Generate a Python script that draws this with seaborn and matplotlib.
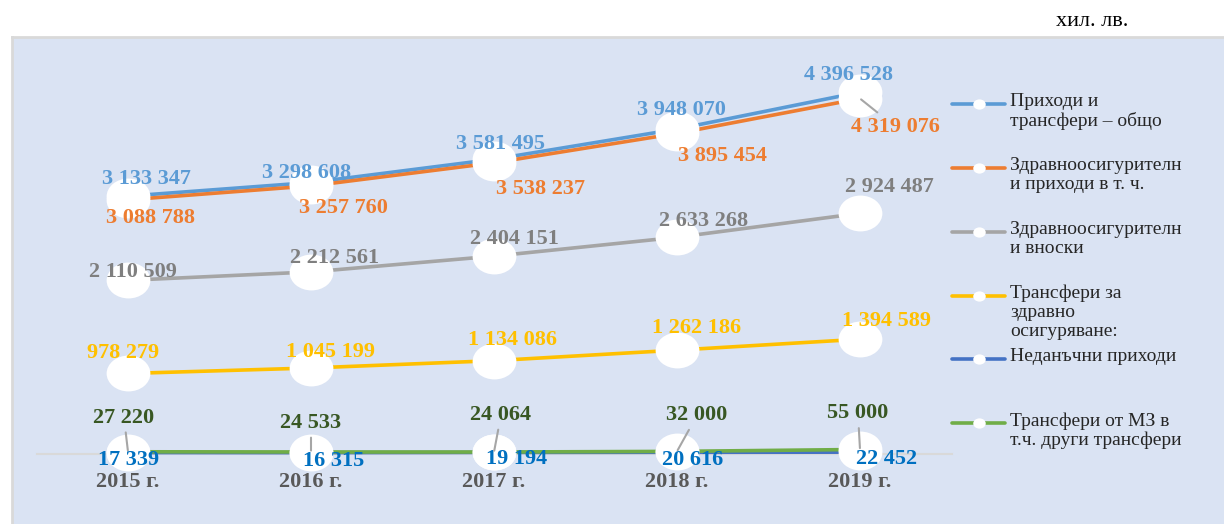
import numpy as np
import pandas as pd
import matplotlib
matplotlib.use("Agg")
import matplotlib.pyplot as plt
import seaborn as sns
from matplotlib.path import Path
from matplotlib.transforms import Affine2D
from matplotlib.lines import Line2D

sns.set_theme(style="white")
plt.rcParams['font.family'] = ['Liberation Serif', 'DejaVu Serif']

# data (хил. лв.)
years = ["2015 г.", "2016 г.", "2017 г.", "2018 г.", "2019 г."]
series_names = [
    "Приходи и\nтрансфери – общо",
    "Здравноосигурителн\nи приходи в т. ч.",
    "Здравноосигурителн\nи вноски",
    "Трансфери за\nздравно\nосигуряване:",
    "Неданъчни приходи",
    "Трансфери от МЗ в\nт.ч. други трансфери",
]
total = [3133347, 3298608, 3581495, 3948070, 4396528]
health_income = [3088788, 3257760, 3538237, 3895454, 4319076]
contributions = [2110509, 2212561, 2404151, 2633268, 2924487]
transfers = [978279, 1045199, 1134086, 1262186, 1394589]
non_tax = [17339, 16315, 19194, 20616, 22452]
mz_transfers = [27220, 24533, 24064, 32000, 55000]

values = [total, health_income, contributions, transfers, non_tax, mz_transfers]
line_colors = ["#5B9BD5", "#ED7D31", "#A5A5A5", "#FFC000", "#4472C4", "#70AD47"]
label_colors = ["#5B9BD5", "#ED7D31", "#7F7F7F", "#FFC000", "#0070C0", "#385723"]

# label offsets in pixels (dx right, dy down) from each point
offsets = [
    [(18, -17), (-4, -10), (6, -15), (4, -19), (-11, -17)],
    [(22, 18), (32, 22), (47, 26), (45, 23), (35, 28)],
    [(5, -8), (24, -14), (20, -17), (27, -16), (29, -26)],
    [(-5, -20), (19, -16), (19, -21), (20, -22), (26, -18)],
    [(1, 7), (23, 8), (23, 7), (16, 8), (27, 7)],
    [(-4, -34), (0, -29), (7, -37), (20, -36), (-2, -36)],
]

rows = []
for name, vals in zip(series_names, values):
    for i, v in enumerate(vals):
        rows.append({"series": name, "idx": i, "value": v})
df = pd.DataFrame(rows)

W, H = 1224, 524
fig = plt.figure(figsize=(W / 100, H / 100), dpi=100)
fig.patch.set_facecolor("white")
ax = fig.add_axes([12 / W, 0, (W - 12) / W, (H - 37) / H])
ax.set_facecolor("#DAE3F3")

palette = dict(zip(series_names, line_colors))
sns.lineplot(data=df, x="idx", y="value", hue="series", palette=palette,
             hue_order=series_names, linewidth=2.6, legend=False, ax=ax,
             sort=False, zorder=2)

ellipse = Path.unit_circle().transformed(Affine2D().scale(1, 0.82))
sns.scatterplot(data=df, x="idx", y="value", marker=ellipse, s=31.5 ** 2,
                color="white", linewidth=0, ax=ax, zorder=3, legend=False)

# scales
px_per_unit = 183.0
x0 = 128.0
zero_px = 454
ax.set_xlim((12 - x0) / px_per_unit, (W - x0) / px_per_unit)
ax.set_ylim(-(H - zero_px) / 82.3 * 1e6, (zero_px - 37) / 82.3 * 1e6)

ax.spines["right"].set_visible(False)
ax.spines["bottom"].set_position(("data", 0))
ax.spines["bottom"].set_bounds(-0.5, 4.5)
ax.spines["bottom"].set_color("#D9D9D9")
ax.spines["bottom"].set_linewidth(1.5)
ax.spines["bottom"].set_zorder(1)
for side in ["left", "top"]:
    ax.spines[side].set_color("#D9D9D9")
    ax.spines[side].set_linewidth(2)

ax.set_xticks(range(len(years)))
ax.set_xticklabels(years, fontsize=16, fontweight="bold", color="#595959")
ax.tick_params(axis="x", length=0, pad=13)
ax.set_yticks([])
ax.set_xlabel("")
ax.set_ylabel("")

# data labels
k = 0.72
for s, vals in enumerate(values):
    for i, v in enumerate(vals):
        dx, dy = offsets[s][i]
        txt = f"{v:,}".replace(",", " ")
        arrow = None
        if s == 5 or (s == 1 and i == 4):
            arrow = dict(arrowstyle="-", color="#A6A6A6", lw=1.5,
                         shrinkA=1, shrinkB=1)
        ax.annotate(txt, (i, v), xytext=(dx * k, -dy * k),
                    textcoords="offset points", ha="center", va="center",
                    fontsize=16, fontweight="bold", color=label_colors[s],
                    arrowprops=arrow, zorder=5)

# legend (first line aligned with handle)
leg_y = [104, 168, 232, 296, 359, 423]
hx0, hx1, tx = 952, 1005, 1010
for name, col, py in zip(series_names, line_colors, leg_y):
    fy = 1 - py / H
    fig.add_artist(Line2D([hx0 / W, hx1 / W], [fy, fy], color=col, lw=2.6,
                          transform=fig.transFigure))
    fig.add_artist(Line2D([(hx0 + hx1) / 2 / W], [fy], marker=ellipse,
                          markersize=9, color="white", markeredgewidth=0,
                          transform=fig.transFigure))
    fig.text(tx / W, fy + 11 / H, name, fontsize=14, color="#262626",
             ha="left", va="top", linespacing=1.15,
             transform=fig.transFigure)

fig.text(1092 / W, 1 - 22 / H, "хил. лв.", fontsize=16, color="black",
         ha="center", va="center")

fig.savefig("out.png", dpi=100)
